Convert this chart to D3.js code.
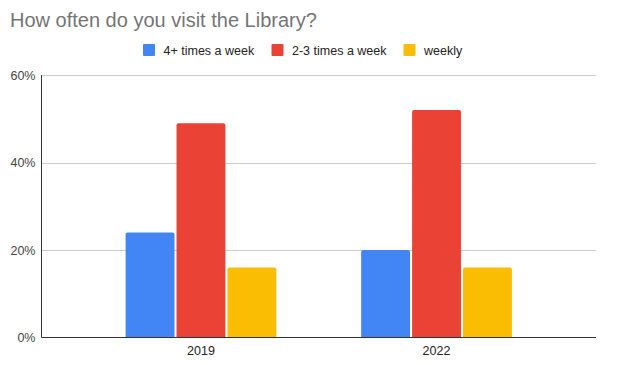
<!DOCTYPE html>
<html><head><meta charset="utf-8">
<script src="https://cdn.jsdelivr.net/npm/d3@7"></script>
<style>body{margin:0;background:#fff}svg{display:block;font-family:Arial,"Liberation Sans",sans-serif}</style>
</head><body><svg id="c" width="618" height="365"></svg>
<script>
const categories = ["2019", "2022"];
const seriesNames = ["4+ times a week", "2-3 times a week", "weekly"];
const seriesColors = ["#4285f4", "#ea4335", "#fbbc04"];
const values4plus = [24, 20];
const values23 = [49, 52];
const valuesWeekly = [16, 16];
const yTicks = [0, 20, 40, 60];
const seriesValues = [values4plus, values23, valuesWeekly];

(function () {
const svg = d3.select("#c");
const pLeft = 41.5, pRight = 596, pTop = 75, pBottom = 337.5;

const x0 = d3.scaleBand().domain(categories).range([pLeft, pRight]).paddingInner(0.36).paddingOuter(0.357);
const x1 = d3.scaleBand().domain(seriesNames).range([0, x0.bandwidth()]).paddingInner(0.04);
const y = d3.scaleLinear().domain([0, 60]).range([pBottom, pTop]);

svg.append("text").attr("x", 10).attr("y", 27).attr("font-size", 20).attr("fill", "#757575").text("How often do you visit the Library?");

svg.append("g").selectAll("line").data(yTicks.filter(d => d > 0)).join("line")
  .attr("x1", pLeft).attr("x2", pRight).attr("y1", d => Math.round(y(d)) + 0.5).attr("y2", d => Math.round(y(d)) + 0.5)
  .attr("stroke", "#cccccc").attr("stroke-width", 1);

const yAxis = d3.axisLeft(y).tickValues(yTicks).tickFormat(d => d + "%").tickSize(0).tickPadding(6);
const ya = svg.append("g").attr("transform", `translate(${pLeft},0)`).call(yAxis);
ya.select(".domain").remove();
ya.selectAll("text").attr("font-size", 12.5).attr("fill", "#444").attr("font-family", "Arial,'Liberation Sans',sans-serif");

const groups = svg.append("g").selectAll("g").data(categories).join("g")
  .attr("transform", d => `translate(${x0(d)},0)`);
groups.selectAll("path").data((c, i) => seriesNames.map((s, j) => ({s, j, v: seriesValues[j][i]}))).join("path")
  .attr("fill", d => seriesColors[d.j])
  .attr("d", d => {
    const x = x1(d.s), w = x1.bandwidth(), yt = y(d.v), yb = y(0), r = 2;
    return `M${x},${yb}V${yt + r}Q${x},${yt} ${x + r},${yt}H${x + w - r}Q${x + w},${yt} ${x + w},${yt + r}V${yb}Z`;
  });

svg.append("line").attr("x1", pLeft).attr("x2", pLeft).attr("y1", pTop).attr("y2", pBottom).attr("stroke", "#333").attr("stroke-width", 1);
svg.append("line").attr("x1", pLeft).attr("x2", pRight).attr("y1", pBottom).attr("y2", pBottom).attr("stroke", "#333").attr("stroke-width", 1);

const xAxis = d3.axisBottom(x0).tickSize(0).tickPadding(9);
const xa = svg.append("g").attr("transform", `translate(0,${pBottom})`).call(xAxis);
xa.select(".domain").remove();
xa.selectAll("text").attr("font-size", 12.5).attr("fill", "#222").attr("font-family", "Arial,'Liberation Sans',sans-serif");

const legendX = [143, 271.5, 403.5];
const lg = svg.append("g").selectAll("g").data(seriesNames).join("g")
  .attr("transform", (d, i) => `translate(${legendX[i]},44)`);
lg.append("rect").attr("width", 12).attr("height", 12).attr("rx", 1).attr("fill", (d, i) => seriesColors[i]);
lg.append("text").attr("x", 20.5).attr("y", 10.5).attr("font-size", 12.5).attr("fill", "#222").text(d => d);
})();
</script></body></html>
